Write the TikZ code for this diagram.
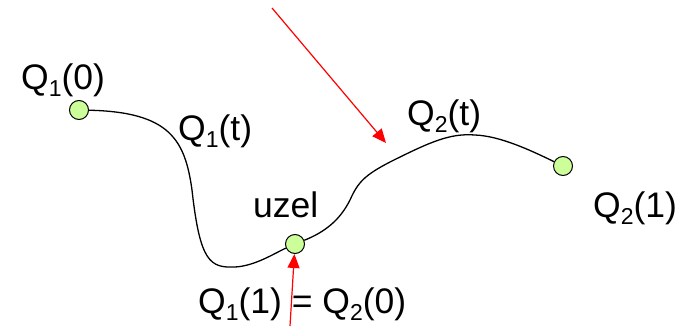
\documentclass[tikz,border=0pt]{standalone}
\usepackage{fontspec}
\setmainfont{Liberation Sans}
\usetikzlibrary{arrows.meta}
\definecolor{bodfill}{RGB}{204,255,153}
\newcommand{\sub}[1]{\raisebox{-0.22em}{\fontsize{23}{23}\selectfont #1}}

\begin{document}
\begin{tikzpicture}[x=1pt,y=-1pt]
        \tikzset{Bod/.style={circle, draw, line width=1pt, fill=bodfill,
                inner sep=0pt, minimum size=19pt}}
        \tikzset{Popis/.style={anchor=base west, inner sep=0pt,
                font=\fontsize{35.5}{36}\selectfont}}
        \tikzset{Sipka/.style={red, line width=1.2pt,
                -{Triangle[length=14pt,width=12pt]}}}
        \useasboundingbox (0,0) rectangle (684,326);
        \node[Bod] (Q10) at (79,110) {};
        \node[Bod] (uzel) at (295,244) {};
        \node[Bod] (Q21) at (563,166) {};
        \node[Popis] (lQ10) at (21,89) {Q\sub{1}(0)};
        \node[Popis] (lQ1t) at (178,140) {Q\sub{1}(t)};
        \node[Popis] (luzel) at (253,217) {uzel};
        \node[Popis] (lQ2t) at (407,125) {Q\sub{2}(t)};
        \node[Popis] (lQ21) at (593,217) {Q\sub{2}(1)};
        \node[Popis] (lspoj) at (198,313) {Q\sub{1}(1) = Q\sub{2}(0)};
        \draw[line width=1.3pt] (Q10) .. controls (170,112) and (185,140) .. (192,190)
                .. controls (200,262) and (210,268) .. (235,267)
                .. controls (255,266) and (275,253) .. (uzel);
        \draw[line width=1.3pt] (uzel) .. controls (325,232) and (340,220) .. (350,200)
                .. controls (358,182) and (365,175) .. (390,162)
                .. controls (430,142) and (450,133) .. (475,135)
                .. controls (500,136) and (530,150) .. (Q21);
        \coordinate (s1) at (272,8);
        \coordinate (c1) at (386,143);
        \coordinate (s2) at (290,326);
        \draw[Sipka] (s1) -- (c1);
        \draw[Sipka] (s2) -- (uzel);
    \end{tikzpicture}
\end{document}
